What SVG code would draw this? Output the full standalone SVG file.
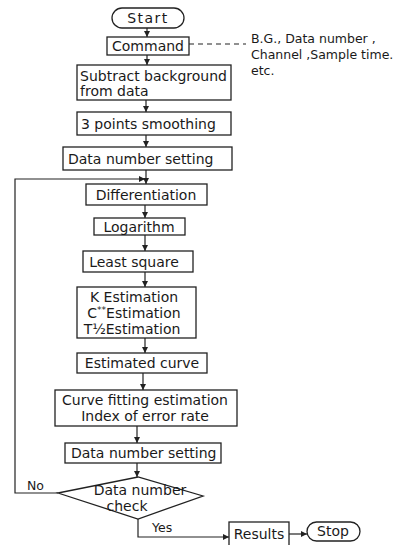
<svg xmlns="http://www.w3.org/2000/svg" width="395" height="545" viewBox="0 0 395 545">
<defs>
<style>
.b{fill:#fff;stroke:#222;stroke-width:1.3}
.c{fill:none;stroke:#222;stroke-width:1.2}
.t{font-family:"DejaVu Sans","Liberation Sans",sans-serif;font-size:14px;fill:#1a1a1a}
.n{font-size:12.5px}
.m{text-anchor:middle}
</style>
<marker id="a" viewBox="0 0 6 6" refX="6" refY="3" markerWidth="5" markerHeight="5" orient="auto"><path d="M0,0 L6,3 L0,6 z" fill="#222"/></marker>
</defs>
<rect width="395" height="545" fill="#fff"/>
<g id="connectors">
<path class="c" d="M147,28 V37" marker-end="url(#a)"/>
<path class="c" d="M147,55 V65" marker-end="url(#a)"/>
<path class="c" d="M146,100 V112" marker-end="url(#a)"/>
<path class="c" d="M146,135 V147" marker-end="url(#a)"/>
<path class="c" d="M146,170 V184" marker-end="url(#a)"/>
<path class="c" d="M145,205 V218" marker-end="url(#a)"/>
<path class="c" d="M145,235 V251" marker-end="url(#a)"/>
<path class="c" d="M145,272 V287" marker-end="url(#a)"/>
<path class="c" d="M145,338 V353" marker-end="url(#a)"/>
<path class="c" d="M143,373 V390" marker-end="url(#a)"/>
<path class="c" d="M137,426 V443" marker-end="url(#a)"/>
<path class="c" d="M137,463 V477" marker-end="url(#a)"/>
<path class="c" d="M58,493 H15 V179 H145" marker-end="url(#a)"/>
<path class="c" d="M138,519 V537 H229" marker-end="url(#a)"/>
<path class="c" d="M289,534 H307" marker-end="url(#a)"/>
<path class="c" d="M189,44 H246" stroke-dasharray="5,4"/>
<text class="t n" x="27" y="490">No</text>
<text class="t n" x="152" y="532">Yes</text>
</g>
<g id="start"><rect class="b" x="112" y="8" width="72" height="20" rx="10"/><text class="t m" x="148" y="23" letter-spacing="1.5">Start</text></g>
<g id="command"><rect class="b" x="107" y="37" width="82" height="18"/><text class="t m" x="148" y="51" font-size="14.5">Command</text></g>
<g id="note"><text class="t n" x="251" y="43">B.G., Data number ,</text><text class="t n" x="251" y="59">Channel ,Sample time.</text><text class="t n" x="251" y="75">etc.</text></g>
<g id="subtract"><rect class="b" x="77" y="65" width="154" height="35"/><text class="t" x="80" y="81">Subtract background</text><text class="t" x="80" y="96">from data</text></g>
<g id="smoothing"><rect class="b" x="77" y="112" width="154" height="23"/><text class="t" x="81" y="129">3 points smoothing</text></g>
<g id="dns1"><rect class="b" x="63" y="147" width="169" height="23"/><text class="t" x="68" y="164">Data number setting</text></g>
<g id="diff"><rect class="b" x="86" y="184" width="121" height="21"/><text class="t m" x="146" y="200">Differentiation</text></g>
<g id="log"><rect class="b" x="94" y="218" width="91" height="17"/><text class="t m" x="139" y="232">Logarithm</text></g>
<g id="lsq"><rect class="b" x="83" y="251" width="110" height="21"/><text class="t m" x="134" y="267">Least square</text></g>
<g id="est"><rect class="b" x="77" y="287" width="119" height="51"/><text class="t m" x="134" y="302">K Estimation</text><text class="t m" x="134" y="318">C<tspan font-size="9" dy="-5">**</tspan><tspan dy="5">Estimation</tspan></text><text class="t m" x="132" y="334">T½Estimation</text></g>
<g id="curve"><rect class="b" x="77" y="353" width="130" height="20"/><text class="t m" x="142" y="368">Estimated curve</text></g>
<g id="fit"><rect class="b" x="55" y="390" width="182" height="36"/><text class="t m" x="145" y="405">Curve fitting estimation</text><text class="t m" x="145" y="421">Index of error rate</text></g>
<g id="dns2"><rect class="b" x="65" y="443" width="156" height="20"/><text class="t" x="71" y="458" font-size="13.5">Data number setting</text></g>
<g id="check"><path class="b" d="M58,493 L138,477 L203,496 L138,519 Z"/><text class="t m" x="140" y="495" font-size="13">Data number</text><text class="t m" x="127" y="511" font-size="13">check</text></g>
<g id="results"><rect class="b" x="229" y="522" width="60" height="24"/><text class="t m" x="259" y="539" font-size="13.5">Results</text></g>
<g id="stop"><rect class="b" x="307" y="522" width="53" height="19" rx="9.5"/><text class="t m" x="333" y="536">Stop</text></g>
</svg>
